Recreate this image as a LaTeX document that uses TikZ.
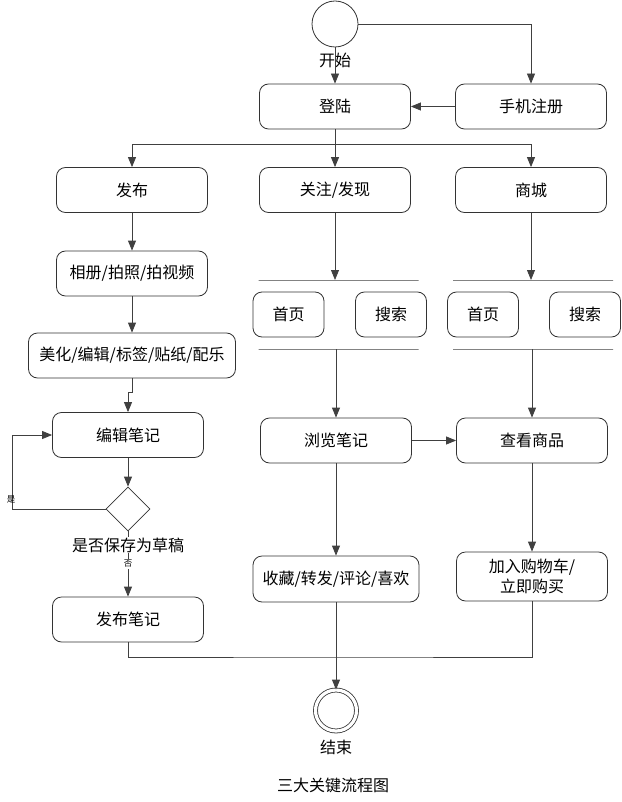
\documentclass[tikz,border=0pt]{standalone}
\usepackage{fontspec}
\setmainfont{Noto Sans CJK SC}
\usetikzlibrary{arrows.meta, positioning, shapes.geometric}

\begin{document}
\begin{tikzpicture}[
    x=1pt, y=-1pt,
    font=\fontsize{16}{20}\selectfont,
    box/.style={rectangle, rounded corners=9pt, draw=black!80, line width=0.8pt, minimum width=151pt, minimum height=45pt, align=center, inner sep=2pt},
    smallbox/.style={box, minimum width=71pt},
    bar/.style={rectangle, draw=black!75, line width=0.8pt, minimum width=160pt, minimum height=0pt, inner sep=0pt},
    arrow/.style={-{Triangle[length=10pt, width=8pt]}, draw=black!75, line width=0.8pt},
    link/.style={draw=black!75, line width=0.8pt},
    tag/.style={font=\fontsize{8.5}{9}\selectfont, inner sep=1pt}
]
\useasboundingbox (0,0) rectangle (621,802);

% start and login
\node[circle, draw=black!80, line width=0.8pt, minimum size=46pt] (start) at (335,24) {};
\node (starttext) at (335,60) {开始};
\node[box] (login) at (335,106.5) {登陆};
\node[box] (register) at (531,106.5) {手机注册};

\draw[arrow] (start) -- (login);
\draw[arrow] (start) -| (register);
\draw[arrow] (register) -- (login);

% three branches
\node[box] (publish) at (132,190) {发布};
\node[box] (follow) at (335,190) {关注/发现};
\node[box] (mall) at (531,190) {商城};

\coordinate (fork) at (335,144);
\draw[link] (login) -- (fork);
\draw[arrow] (fork) -| (publish);
\draw[arrow] (fork) -- (follow);
\draw[arrow] (fork) -| (mall);

% left column
\node[box] (album) at (132,273.5) {相册/拍照/拍视频};
\node[box, minimum width=207pt] (edit) at (132,355.5) {美化/编辑/标签/贴纸/配乐};
\node[box] (note) at (128,435) {编辑笔记};
\node[diamond, draw=black!80, line width=0.8pt, minimum width=44pt, minimum height=44pt, inner sep=0pt] (draft) at (128,509) {};
\node[box] (post) at (128,619.5) {发布笔记};
\coordinate (loop) at (12,509);

\draw[arrow] (publish) -- (album);
\draw[arrow] (album) -- (edit);
\draw[arrow] (edit.south) -- ++(0,14) -| (note.north);
\draw[arrow] (note) -- (draft);
\draw[arrow] (draft) -- (loop) |- (note);
\draw[arrow] (draft) -- (post);
\node[fill=white, inner sep=1pt] (drafttext) at (128,545) {是否保存为草稿};
\node[tag] (yes) at (11,499) {是};
\node[tag, fill=white] (no) at (128,564) {否};

% middle and right columns
\node[bar] (barA) at (338.5,280) {};
\node[bar] (barB) at (338.5,349) {};
\node[bar] (barC) at (533,280) {};
\node[bar] (barD) at (533,349) {};
\node[smallbox] (homeA) at (288.5,314.5) {首页};
\node[smallbox] (searchA) at (391,314.5) {搜索};
\node[smallbox] (homeB) at (483,314.5) {首页};
\node[smallbox] (searchB) at (585,314.5) {搜索};

\node[box] (browse) at (336,440.5) {浏览笔记};
\node[box] (goods) at (532,440.5) {查看商品};
\node[box, minimum width=166pt, minimum height=46pt] (collect) at (336,579) {收藏/转发/评论/喜欢};
\node[box, minimum height=49pt] (cart) at (532,576.5) {加入购物车/\\立即购买};

\draw[arrow] (follow) -- (follow |- barA);
\draw[arrow] (mall) -- (mall |- barC);
\draw[arrow] (browse |- barB) -- (browse);
\draw[arrow] (goods |- barD) -- (goods);
\draw[arrow] (browse) -- (goods);
\draw[arrow] (browse) -- (collect);
\draw[arrow] (goods) -- (cart);

% end
\node[circle, draw=black!80, line width=0.8pt, double, double distance=3.2pt, minimum size=41pt] (end) at (336,710.5) {};
\node (endtext) at (336,747) {结束};
\node (title) at (333,785) {三大关键流程图};
\coordinate (join) at (336,657);

\draw[link] (post) |- (join) -| (cart);
\draw[arrow] (collect) -- (end);
\end{tikzpicture}
\end{document}
